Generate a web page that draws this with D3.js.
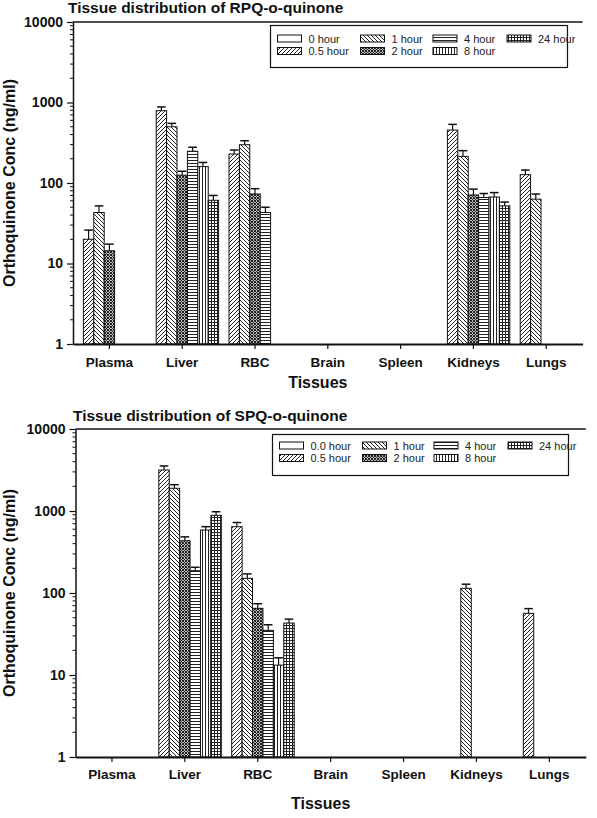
<!DOCTYPE html>
<html><head><meta charset="utf-8">
<script src="https://cdn.jsdelivr.net/npm/d3@7"></script>
<style>
html,body{margin:0;padding:0;background:#fff;}
svg text{font-family:"Liberation Sans",Arial,Helvetica,sans-serif;}
</style></head>
<body><svg id="c" width="597" height="818"></svg>
<script>
const categories = ["Plasma","Liver","RBC","Brain","Spleen","Kidneys","Lungs"];
const seriesKeys = ["0h","0.5h","1h","2h","4h","8h","24h"];
const legendLabelsRPQ = ["0 hour","0.5 hour","1 hour","2 hour","4 hour","8 hour","24 hour"];
const legendLabelsSPQ = ["0.0 hour","0.5 hour","1 hour","2 hour","4 hour","8 hour","24 hour"];
const yTickValues = [1,10,100,1000,10000];

// RPQ-o-quinone: values per series, in category order (null = no bar)
const rpq_0h   = [null,null,null,null,null,null,null];
const rpq_05h  = [20,791,229,null,null,455,127];
const rpq_1h   = [43,500,299,null,null,214,63];
const rpq_2h   = [14.4,125,73,null,null,71,null];
const rpq_4h   = [null,248,43,null,null,66,null];
const rpq_8h   = [null,160,null,null,null,67,null];
const rpq_24h  = [null,61,null,null,null,52,null];
const rpqErr_05h = [6,90,28,null,null,80,18];
const rpqErr_1h  = [9,50,36,null,null,38,10];
const rpqErr_2h  = [3,15,12,null,null,13,null];
const rpqErr_4h  = [null,30,7,null,null,8,null];
const rpqErr_8h  = [null,20,null,null,null,9,null];
const rpqErr_24h = [null,9,null,null,null,6,null];

// SPQ-o-quinone
const spq_0h   = [null,null,null,null,null,null,null];
const spq_05h  = [null,3162,644,null,null,null,56.5];
const spq_1h   = [null,1892,151,null,null,114,null];
const spq_2h   = [null,434,65,null,null,null,null];
const spq_4h   = [null,187,35,null,null,null,null];
const spq_8h   = [null,586,13.2,null,null,null,null];
const spq_24h  = [null,885,43,null,null,null,null];
const spqErr_05h = [null,380,80,null,null,null,8];
const spqErr_1h  = [null,200,20,null,null,14,null];
const spqErr_2h  = [null,50,9,null,null,null,null];
const spqErr_4h  = [null,19,6,null,null,null,null];
const spqErr_8h  = [null,58,3,null,null,null,null];
const spqErr_24h = [null,95,5,null,null,null,null];

const rpqValues = [rpq_0h,rpq_05h,rpq_1h,rpq_2h,rpq_4h,rpq_8h,rpq_24h];
const rpqErrors = [rpq_0h,rpqErr_05h,rpqErr_1h,rpqErr_2h,rpqErr_4h,rpqErr_8h,rpqErr_24h];
const spqValues = [spq_0h,spq_05h,spq_1h,spq_2h,spq_4h,spq_8h,spq_24h];
const spqErrors = [spq_0h,spqErr_05h,spqErr_1h,spqErr_2h,spqErr_4h,spqErr_8h,spqErr_24h];

const svg = d3.select("#c");
const defs = svg.append("defs");
const ink = "#222";
function pat(id,w,h,d,bg){
  const p = defs.append("pattern").attr("id",id).attr("patternUnits","userSpaceOnUse")
    .attr("width",w).attr("height",h);
  p.append("rect").attr("width",w).attr("height",h).attr("fill",bg||"#fff");
  if(d) p.append("path").attr("d",d).attr("stroke",ink).attr("stroke-width",1).attr("fill","none");
}
pat("p0h",4,4,null);
pat("p05h",4,4,"M-1,1 l2,-2 M0,4 l4,-4 M3,5 l2,-2");
pat("p1h",4,4,"M-1,3 l2,2 M0,0 l4,4 M3,-1 l2,2");
pat("p2h",3,3,"M0,0 l3,3 M3,0 l-3,3 M-1,1 l2,-2 M2,4 l2,-2","#bbb");
pat("p4h",4,3,"M0,1.5 h4");
pat("p8h",3,4,"M1.5,0 v4");
pat("p24h",3,3,"M0,1.5 h3 M1.5,0 v3");
const fills = seriesKeys.map(k=>"url(#p"+k.replace(".","")+")");

function drawChart(o){
  const g = svg.append("g");
  const x = d3.scaleBand().domain(categories).range([o.x0,o.x1]).paddingInner(0).paddingOuter(0);
  const xs = d3.scaleBand().domain(seriesKeys).range([0,x.bandwidth()]).padding(0);
  const y = d3.scaleLog().domain([1,10000]).range([o.yb,o.yt]);

  // bars
  o.values.forEach((arr,si)=>{
    arr.forEach((v,ci)=>{
      if(v==null) return;
      const bx = x(categories[ci]) + xs(seriesKeys[si]);
      const bw = xs.bandwidth();
      const e = o.errors[si][ci];
      if(e!=null){
        const cx = bx+bw/2;
        g.append("line").attr("x1",cx).attr("x2",cx).attr("y1",y(v)).attr("y2",y(v+e))
          .attr("stroke","#111").attr("stroke-width",1.2);
        g.append("line").attr("x1",cx-4.3).attr("x2",cx+4.3).attr("y1",y(v+e)).attr("y2",y(v+e))
          .attr("stroke","#111").attr("stroke-width",1.5);
      }
      g.append("rect").attr("x",bx).attr("y",y(v)).attr("width",bw).attr("height",y(1)-y(v))
        .attr("fill",fills[si]).attr("stroke","#111").attr("stroke-width",1);
    });
  });

  // y axis
  const ya = d3.axisLeft(y).tickValues(yTickValues).tickFormat(d3.format("d")).tickSize(6).tickSizeOuter(0);
  const yg = g.append("g").attr("transform",`translate(${o.x0},0)`).call(ya);
  yg.selectAll("text").attr("font-size",14).attr("font-weight","bold").attr("fill","#111").attr("dx","-1");
  yg.select(".domain").attr("stroke","#111").attr("stroke-width",1.5);
  yg.selectAll(".tick line").attr("stroke","#111").attr("stroke-width",1.2);
  const minor=[];
  for(let dec=1;dec<10000;dec*=10) for(let m=2;m<=9;m++) minor.push(dec*m);
  g.selectAll(null).data(minor).enter().append("line")
    .attr("x1",o.x0-3).attr("x2",o.x0).attr("y1",d=>y(d)).attr("y2",d=>y(d))
    .attr("stroke","#111").attr("stroke-width",1);

  // x axis
  const xa = d3.axisBottom(x).tickSize(5).tickSizeOuter(0);
  const xg = g.append("g").attr("transform",`translate(0,${o.yb})`).call(xa);
  xg.select(".domain").attr("stroke","#111").attr("stroke-width",1.8);
  xg.selectAll(".tick line").attr("stroke","#111").attr("stroke-width",1.2);
  xg.selectAll("text").attr("font-size",13.5).attr("font-weight","bold").attr("fill","#111")
    .attr("y",null).attr("dy",null).attr("transform",`translate(0,${o.labelDy})`);
  // top frame line
  g.append("line").attr("x1",o.x0).attr("x2",o.x1).attr("y1",o.yt).attr("y2",o.yt)
    .attr("stroke","#111").attr("stroke-width",1.5);

  // titles
  g.append("text").attr("x",o.titleX).attr("y",o.titleY).attr("font-size",15.5).attr("font-weight","bold")
    .attr("fill","#111").text(o.title);
  g.append("text").attr("transform",`translate(${o.yTitleX},${(o.yb+o.yt)/2}) rotate(-90)`)
    .attr("text-anchor","middle").attr("font-size",16).attr("font-weight","bold").attr("fill","#111")
    .text("Orthoquinone Conc (ng/ml)");
  g.append("text").attr("x",(o.x0+o.x1)/2 - 10).attr("y",o.xTitleY).attr("text-anchor","middle")
    .attr("font-size",16).attr("font-weight","bold").attr("fill","#111").text("Tissues");

  // legend
  const L = o.legend;
  g.append("rect").attr("x",L.x).attr("y",L.y).attr("width",L.w).attr("height",L.h)
    .attr("fill","#fff").attr("stroke","#111").attr("stroke-width",1.2);
  const colX = L.cols, rowY = L.rows;
  seriesKeys.forEach((k,i)=>{
    const c = Math.floor(i/2), r = i%2;
    g.append("rect").attr("x",colX[c]).attr("y",rowY[r]).attr("width",24).attr("height",7)
      .attr("fill",fills[i]).attr("stroke","#111").attr("stroke-width",1);
    g.append("text").attr("x",colX[c]+31).attr("y",rowY[r]+7.5).attr("font-size",11)
      .attr("fill","#222").text(o.labels[i]);
  });
}

drawChart({x0:73,x1:582.6,yt:22,yb:344,values:rpqValues,errors:rpqErrors,labels:legendLabelsRPQ,
  title:"Tissue distribution of RPQ-o-quinone",titleX:68,titleY:13,yTitleX:15,xTitleY:388,labelDy:23,
  legend:{x:270.5,y:25.5,w:297,h:42,cols:[277.5,360.5,433,507],rows:[35,47.5]}});
drawChart({x0:75.5,x1:585.8,yt:429,yb:757,values:spqValues,errors:spqErrors,labels:legendLabelsSPQ,
  title:"Tissue distribution of SPQ-o-quinone",titleX:73,titleY:421,yTitleX:15,xTitleY:809,labelDy:22,
  legend:{x:272.5,y:434.5,w:296,h:41,cols:[279.5,362.5,434,508],rows:[442,454.5]}});
</script></body></html>
